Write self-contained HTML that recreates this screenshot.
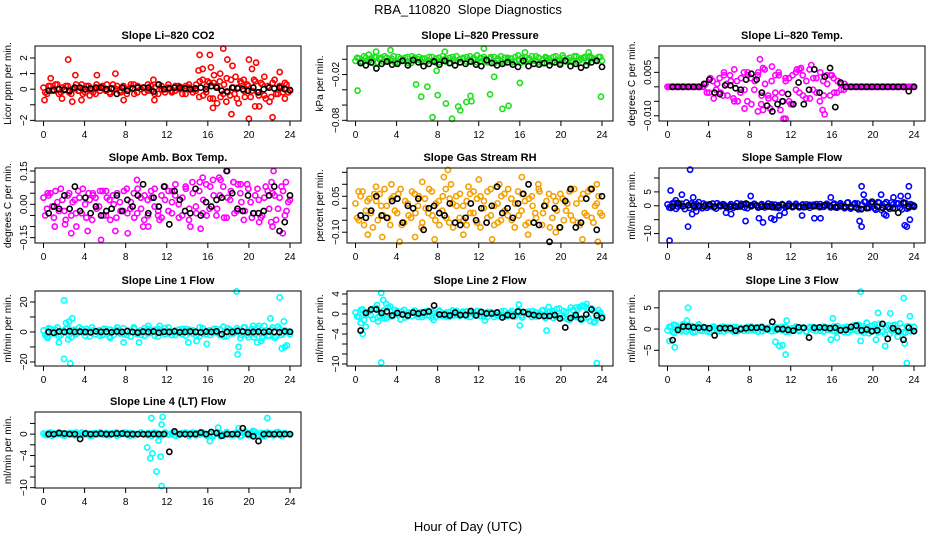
<!DOCTYPE html>
<html><head><meta charset="utf-8"><title>RBA_110820 Slope Diagnostics</title>
<style>
html,body{margin:0;padding:0;background:#fff;}
svg{display:block;font-family:"Liberation Sans",Arial,sans-serif;}
</style></head>
<body>
<svg id="chart" width="936" height="540" viewBox="0 0 936 540" xmlns="http://www.w3.org/2000/svg">
<text x="468" y="14" text-anchor="middle" font-size="13" style="white-space:pre">RBA_110820  Slope Diagnostics</text>
<text x="468" y="531" text-anchor="middle" font-size="13">Hour of Day (UTC)</text>
</svg>
<script>
// ---- data: CO2 ----
const co2Main=[0.1,-0.3,0.2,-0.1,0.3,-0.2,0,0.2,-0.3,0.1,-0.1,0.3,-0.2,0.2,0,-0.3,0.1,0.2,-0.1,-0.2,0.3,0,-0.1,0.2,-0.3,0.1,0.3,-0.2,0,0.1,-0.1,0.2,-0.3,0.3,0,-0.2,0.1,-0.1,0.2,0,-0.3,0.2,0.1,-0.2,0.3,0.5,-0.4,0.2,-0.6,0.4,0.1,-0.5,0.3,-0.2,0.6,-0.3,0.1,0.4,-0.5,0.2,-0.1,0.5,-0.4,0.3,-0.6,0.1,0.4,-0.3,0.2,-0.2,0.3,-0.1];
const co2B=[-0.2,0.2,-0.1,0.3,-0.3,0.1,0.2,-0.2,0,0.3,-0.1,-0.3,0.2,0,-0.2,0.3,-0.1,0.1,0.3,-0.3,0,0.2,-0.2,0.1,-0.1,0.3,-0.3,0.2,0,-0.2,0.3,-0.1,0.1,-0.3,0.2,0,0.3,-0.2,-0.1,0.2,0.1,-0.3,0.3,0,-0.1,-0.5,0.6,-0.2,0.4,-0.6,0.2,0.5,-0.3,0.7,-0.4,0.1,-0.6,0.5,-0.1,0.3,-0.5,0.6,-0.2,0.4,-0.4,0.2,-0.5,0.6,-0.3,0.1,0.4,-0.2];
const co2Out=[[2.4,1.9],[0.7,0.7],[3.1,0.9],[2.8,-0.8],[3.7,-0.7],[0.1,-0.7],[7,1],[5.2,0.9],[7.8,-0.7],[10.8,-0.7],[15.2,2.2],[16.2,2.2],[17.5,2.6],[17.9,1.9],[15.5,1.3],[16.3,1.4],[16.6,0.9],[15.1,1.2],[17.2,1.0],[18.4,1.5],[18.7,0.8],[20,1.9],[20.7,1.7],[20.3,1.3],[16.5,-1.2],[16.9,-0.9],[17.8,-0.8],[18.3,-1.6],[19.0,-0.9],[20.0,-1.9],[20.6,-1.1],[21.0,-1.1],[22.3,-1.8],[23.0,1.1],[21.5,0.8],[22,-0.8],[23.5,-0.6],[16,0.5],[19.5,0.6],[10.7,0.6],[1.8,-0.6],[4.5,-0.4]];
const co2Black=[-0.1,-0.05,0,-0.05,-0.1,0.1,0.1,0,0.05,0.1,0.1,0,0.05,-0.3,0.1,-0.1,0.05,0.1,0.1,0.1,-0.15,0.3,0,0.05,0.1,0.1,0.05,0,0.05,0.1,0,0.2,0.1,-0.1,-0.15,0.1,0.05,0,-0.1,0.1,-0.2,0,0.1,0.05,0.1,0,-0.05];
// ---- data: Pressure ----
const presMain=[-0.002,0.001,-0.004,0.002,-0.001,-0.005,0.003,0,-0.003,0.002,-0.002,0.004,-0.004,0.001,-0.001,0.003,-0.005,0.002,0,-0.003,0.001,-0.002,0.003,-0.004,0.002,-0.001,0.001,-0.005,0.003,-0.002,0,0.002,-0.003,0.004,-0.001,-0.004,0.002,0,-0.002,0.003,-0.005,0.001,-0.003,0.002,0,-0.004,0.003,-0.001,0.002,-0.003,0.001,-0.002,0.004,-0.004,0,0.002,-0.003,0.003,-0.001,-0.005,0.002,0,-0.002,0.004,-0.003,0.001,0.003,-0.004,0.002,-0.001,0.003,-0.002];
const presB=[0.002,-0.003,0.004,-0.001,0.001,0.003,-0.004,0.002,0.004,-0.002,0.001,-0.004,0.003,-0.002,0.002,-0.005,0.004,-0.001,0.003,0.001,-0.004,0.003,-0.002,0.001,-0.004,0.004,-0.003,0.002,-0.001,0.004,-0.004,0.001,0.003,-0.002,0.002,0.005,-0.003,0.003,-0.004,0.001,0.003,-0.002,0.004,-0.005,0.002,0.001,-0.003,0.005,-0.004,0.003,-0.001,0.004,-0.002,0.002,-0.005,0.003,0.001,-0.003,0.004,-0.002,0.005,-0.003,0.002,-0.004,0.004,-0.001,0.002,-0.003,0.004,0.001,-0.002,0.003];
const presOut=[[0.2,-0.041],[5.9,-0.033],[6.4,-0.049],[7.0,-0.036],[7.5,-0.076],[8.0,-0.047],[8.8,-0.058],[9.4,-0.078],[10,-0.062],[10.2,-0.067],[10.8,-0.056],[11.2,-0.048],[11.3,-0.055],[13.1,-0.046],[13.5,-0.023],[14.3,-0.065],[14.9,-0.061],[16.0,-0.031],[23.9,-0.049],[8.7,0.01],[12.5,0.014],[3.4,0.012],[2,0.01],[16.5,0.009],[22.7,0.009],[1.3,0.006],[7.9,-0.015]];
const presBlack=[-0.005,-0.008,-0.004,-0.012,-0.006,-0.003,-0.007,-0.006,-0.002,-0.008,-0.001,-0.004,-0.009,-0.006,-0.003,-0.007,-0.002,-0.005,-0.008,-0.004,-0.006,-0.003,-0.007,-0.009,-0.001,-0.005,-0.008,-0.006,-0.004,-0.007,-0.010,-0.002,-0.009,-0.006,-0.007,-0.005,-0.008,-0.004,-0.007,-0.002,-0.009,-0.006,-0.011,-0.008,-0.004,-0.002,-0.010];
// ---- data: Li-820 Temp ----
const tempMain=[0,0,0,0,0,0,0,0,0,0,0,0.001,-0.002,0.002,-0.001,0.003,-0.003,0.001,0.004,-0.004,0.002,-0.002,0.005,-0.005,0.003,-0.001,0.004,-0.006,0.006,-0.003,0.002,-0.004,0.005,-0.002,0.003,-0.005,0.004,-0.001,0.006,-0.003,0.002,-0.004,0.003,-0.002,0.005,-0.003,0.001,0.004,-0.002,0.002,-0.001,0.001,0,0,0,0,0,0,0,0,0,0,0,0,0,0,0,0,0,0,0,0];
const tempB=[0,0,0,0,0,0,0,0,0,0,0,-0.002,0.003,-0.004,0.001,-0.002,0.005,-0.003,0.002,0.006,-0.005,0.003,-0.001,0.004,-0.006,0.002,0.005,-0.003,0.001,-0.004,0.007,-0.002,0.004,-0.005,0.002,0.003,-0.006,0.005,-0.002,0.004,-0.004,0.006,-0.001,0.003,-0.005,0.002,0.004,-0.003,0.003,-0.002,0.001,-0.001,0,0,0,0,0,0,0,0,0,0,0,0,0,0,0,0,0,0,0,0];
const tempOut=[[9.0,0.0095],[9.3,0.0065],[13,0.0065],[12.6,0.006],[14,0.0075],[11.3,-0.011],[11.5,-0.011],[15.3,-0.0095],[9.3,-0.008],[8.8,-0.0085],[10,-0.0075],[7.5,-0.0075],[5.5,0.004],[11,-0.008],[15.1,-0.008],[7.8,0.005],[10.5,0.004],[16,0.004],[12,-0.006],[6.5,-0.005]];
const tempBlack=[0,0,0,0,0,0,0.001,0.0025,-0.002,-0.0025,0.0005,0.0005,-0.0005,-0.001,0.0025,0.0045,0.0025,-0.002,-0.0065,-0.0085,-0.006,-0.005,-0.0025,-0.006,0.0015,-0.006,-0.001,0.006,-0.002,0.0035,0.0065,-0.007,0.0015,0,0,0,0,0,0,0,0,0,0,0,0,-0.0015,0];
// ---- data: Amb. Box Temp ----
const boxMain=[0.03,-0.02,0.05,-0.06,0.01,0.07,-0.03,0.04,-0.05,0.02,0.06,-0.04,0,0.05,-0.07,0.03,-0.01,0.06,-0.05,0.02,0.04,-0.06,0.01,-0.03,0.07,-0.02,0.05,-0.04,0.03,-0.07,0.02,0.06,-0.01,-0.05,0.04,0.08,-0.03,0.01,0.09,-0.06,0.03,0.07,-0.02,0.05,-0.04,0.1,0.02,-0.05,0.08,0.04,-0.02,0.11,-0.06,0.03,0.06,-0.04,0.09,0.01,-0.03,0.07,-0.06,0.04,0.02,-0.05,0.08,-0.02,0.05,-0.07,0.03,0.06,-0.03,0.02];
const boxB=[-0.05,0.04,-0.01,0.06,-0.03,0.02,-0.07,0.05,0.01,-0.04,0.03,0.07,-0.06,0.02,0.04,-0.02,0.06,-0.05,0.03,-0.07,0,0.05,-0.03,0.06,-0.04,0.01,-0.06,0.07,-0.02,0.04,-0.05,0.03,0.07,-0.03,-0.06,0.02,0.06,-0.04,0.04,0,-0.05,0.08,-0.07,0.1,-0.01,0.06,-0.04,0.09,-0.02,0.11,-0.05,0.04,0.08,-0.06,0.02,0.1,-0.03,0.05,-0.07,0.09,0.01,-0.04,0.07,-0.06,0.03,0.06,-0.08,0.04,-0.02,0.08,-0.05,0.01];
const boxOut=[[1.1,-0.1],[2.1,-0.09],[2.7,-0.13],[3.2,-0.1],[4.3,-0.12],[5.6,-0.16],[7.0,-0.12],[8.2,-0.13],[9.1,0.11],[9.7,-0.1],[10.2,-0.1],[11.3,-0.07],[14.3,-0.1],[15.3,-0.11],[15.5,0.12],[17.1,0.12],[17.8,0.15],[18.5,0.1],[19.2,0.09],[22.2,0.1],[22.4,0.15],[22.3,-0.1],[23.3,-0.13],[23.6,0.1],[21,-0.08],[6.1,0.06],[0.4,0.05],[4.8,0.05],[12.5,0.06]];
const boxBlack=[-0.04,-0.01,-0.02,0.04,-0.02,0.08,-0.03,0.03,-0.04,-0.01,-0.05,-0.03,-0.02,0.04,-0.03,0.02,-0.01,0.04,0.09,-0.04,0.03,-0.01,0.08,-0.09,0.06,0.02,-0.03,-0.04,0.07,-0.05,0.01,-0.01,0.02,0.03,0.15,0.05,-0.02,-0.03,0.04,-0.04,-0.04,-0.03,0.04,0.08,-0.12,-0.08,0.04];
// ---- data: Gas Stream RH ----
const rhMain=[0.02,-0.05,0.07,-0.01,0.04,-0.08,0.03,0.06,-0.03,0.01,-0.07,0.05,-0.02,0.08,-0.06,0.02,-0.04,0.06,0.01,-0.08,0.04,-0.02,0.07,-0.05,0.03,-0.01,0.08,-0.06,0.02,0.05,-0.04,0.01,-0.07,0.06,-0.02,0.04,-0.08,0.03,0.07,-0.03,0.01,-0.06,0.05,-0.01,0.08,-0.05,0.02,-0.03,0.06,-0.07,0.04,0.01,-0.04,0.07,-0.02,0.03,-0.08,0.05,-0.01,0.06,-0.05,0.02,-0.03,0.08,-0.06,0.04,-0.02,0.07,-0.04,0.01,0.05,-0.03];
const rhB=[-0.04,0.05,-0.07,0.03,-0.02,0.06,-0.05,0.01,0.08,-0.04,0.04,-0.01,0.06,-0.07,0.03,-0.03,0.07,-0.02,0.05,-0.06,0,0.08,-0.03,0.02,-0.07,0.05,-0.04,0.04,-0.08,0.01,0.06,-0.05,0.03,-0.02,0.07,-0.06,0.05,0,-0.04,0.08,-0.07,0.02,-0.05,0.06,-0.03,0.04,-0.08,0.07,-0.01,0.03,-0.06,0.05,-0.02,0.08,-0.07,0.01,0.06,-0.04,0.03,-0.08,0.04,-0.01,0.07,-0.05,0.02,-0.07,0.06,-0.03,0.08,-0.06,0.02,-0.02];
const rhOut=[[1.2,-0.11],[2.6,-0.12],[4.3,-0.14],[5.8,-0.12],[7.7,-0.13],[8.6,0.13],[9,0.16],[9.3,0.1],[12,0.12],[13.3,-0.13],[16.2,0.13],[16.8,-0.11],[19.5,-0.1],[22.1,-0.13],[23.6,-0.14],[23.5,0.1],[3.5,0.1],[6.5,0.11],[11,0.09],[17.8,0.1],[0.3,0.07],[2,0.09],[14,0.1],[21,0.08],[10.5,-0.11]];
const rhBlack=[-0.03,-0.04,-0.01,0.05,-0.03,-0.04,0.03,0.04,-0.06,0.01,0.0,0.04,-0.09,0.0,0.01,-0.02,-0.03,0.02,-0.06,-0.07,-0.04,0.02,-0.05,0.0,-0.06,0.01,0.09,-0.02,0.0,-0.04,0.02,0.06,0.1,-0.06,-0.07,0.01,-0.14,0.0,-0.08,0.03,0.08,-0.08,-0.06,0.04,0.08,-0.09,0.05];
// ---- data: Sample Flow ----
const sampMain=[0.5,-0.8,1.1,-0.3,0.7,-1.2,0.2,0.9,-0.6,1.3,-0.9,0.4,-0.2,0.8,-1,0.3,0.6,-0.5,0.1,-0.7,0.9,-0.3,0.5,-0.9,0.2,0.7,-0.4,0.3,-0.6,0.8,-0.1,0.4,-0.8,0.6,-0.2,0.1,-0.5,0.7,-0.3,0.2,0.5,-0.7,0.4,-0.1,0.6,-0.4,0.2,-0.6,0.8,-0.2,0.3,-0.9,1.2,-0.5,0.9,-1.3,0.4,1.5,-0.8,0.7,-1.4,1.1,-0.6,1.3,-1.1,0.5,0.9,-0.7,1.2,-1,0.6,-0.4];
const sampB=[-0.6,0.9,-1.1,0.4,-0.2,1.2,-0.8,0.3,0.6,-0.4,0.8,-0.7,0.2,-0.5,0.9,-0.2,0.4,-0.8,0.6,0.1,-0.4,0.7,-0.6,0.3,-0.2,0.5,-0.7,0.6,0,-0.3,0.5,-0.6,0.2,0.4,-0.5,0.7,-0.2,0.1,-0.6,0.5,-0.4,0.3,-0.2,0.6,-0.5,0.2,0.7,-0.3,0.4,-0.7,0.9,-0.4,1.1,-1,0.5,0.8,-1.2,1.4,-0.6,1,-0.9,1.3,-1.5,0.7,-0.5,1.2,-1,0.8,-1.3,1,-0.7,0.3];
const sampOut=[[0.2,-12.5],[0.3,5.5],[1.4,4],[2,-7.5],[2.2,13],[2.4,-3],[2.5,3],[5.7,-2.5],[6.2,-3],[7.6,-5.5],[8.1,3.5],[8.9,-4.5],[9.3,-6],[10.1,-4.5],[10.4,-5],[10.9,-3.5],[11.4,-2.5],[13.1,-3.5],[14.3,-4.5],[14.9,-4.5],[15.9,3],[18.7,-5.5],[18.9,-7.5],[18.9,7],[19.1,4],[20.8,4],[21.1,-3],[21.3,-3.5],[23.1,-7],[23.3,-7.5],[23.5,7],[23.4,3.5],[23.6,-5],[22.7,3.5],[22,3],[0.8,2],[2.8,-2]];
const sampBlack=[-0.3,1,-0.2,0.2,-0.1,0,-0.2,0.5,-0.3,0,-0.1,-0.4,-0.2,0.1,0.8,0,0.1,-0.3,-0.1,-0.5,-0.3,0.3,-0.1,-0.3,-0.2,-0.5,0,-0.1,-0.2,0.2,0,-0.5,-0.2,-0.4,-0.3,-0.7,-1.2,-0.9,1.5,-0.3,-0.8,-0.5,-0.9,-2.5,1,-0.2,0];
// ---- data: Line 1 Flow ----
const l1Main=[1,-3,2,-1,3,-2,0,2.5,-3.5,1.5,-0.5,2,-2.5,0.5,3,-1.5,1,-2,2,-3,0.5,1.5,-1,2.5,-2,0,3,-1.5,1,-2.5,2,-0.5,1.5,-3,0.5,2.5,-1,0,-2,1.5,-1.5,2,-0.5,1,-2.5,3,-1,0.5,-2,2,-0.5,1.5,-3,2.5,-1,0,1,-2,3,-3.5,2,-1.5,4,-4,1,-2.5,3,-3,2,-1,0.5,-1.5];
const l1B=[-2,2.5,-1,1.5,-3,0.5,2,-2,1,-1.5,3,-0.5,2,-3,1,0.5,-2.5,2,-1,1.5,-2,3,-0.5,-1.5,1,-3,2,0.5,-2,2.5,-1,1,-2.5,2,-0.5,-1.5,3,-2,1,-0.5,2,-2.5,1.5,-1,0.5,-3,2.5,-1.5,1,-0.5,2,-2,3.5,-3,1.5,-1,2.5,-4,3,-2,1,-3.5,2.5,-1,4,-2.5,1.5,-4,3.5,-2,1,0];
const l1Out=[[2,21],[2,-18],[2.6,-21],[1.5,-7],[2.2,6],[2.5,7],[2.8,9],[2.4,-5],[7.8,-7],[9.3,-7],[15.9,-8],[14.1,-7],[14.9,-6],[18.8,27],[18.9,-15],[19,-10],[22.1,9],[23,23],[23.2,-11],[23.5,-10],[23.4,7],[23.7,-9],[20.8,-7],[21.2,-6],[20.4,4],[10.2,4],[11.3,4],[6.5,-4],[0.4,-4]];
const l1Black=[0,-0.5,0.3,0,0.5,0,0.2,0,-0.3,0.4,0,0.2,-0.2,0.3,0,0.5,0,-0.4,0.2,0,0.3,-0.5,0.1,0,0.4,-0.2,0,0.3,0,-0.3,0.2,0,0.4,-1.5,0.1,0,0.6,0.3,-0.2,0,0.2,-0.1,0.3,0,-0.2,0.4,0.1];
// ---- data: Line 2 Flow ----
const l2Main=[0.3,-0.6,0.9,-0.2,0.5,-1,1.2,-0.4,0.7,-0.8,1.5,-0.3,0.6,-1.1,0.8,-0.5,0.2,0.7,-0.6,0.4,-0.3,0.6,-0.7,0.2,0.5,-0.4,0.3,-0.6,0.7,-0.2,0.1,0.5,-0.5,0.3,-0.1,0.6,-0.4,0.2,-0.6,0.4,0,-0.3,0.5,-0.5,0.2,0.6,-0.2,0.4,-0.7,0.3,-0.1,0.6,-0.5,0.2,0.8,-0.4,0.5,-0.8,1,-0.3,0.6,-1,1.3,-0.5,0.9,-1.2,1.5,-0.7,1.1,-1.5,0.8,-0.4];
const l2B=[-0.5,0.8,-1.2,0.4,-0.3,1.1,-0.7,0.2,-0.9,1.3,-0.5,0.8,-0.2,0.5,-0.7,0.3,-0.4,0.6,-0.2,-0.6,0.5,-0.3,0.4,-0.5,0.7,-0.1,-0.5,0.4,-0.3,0.6,-0.4,0.2,0.5,-0.6,0.3,-0.2,0.5,-0.5,0.4,0,-0.6,0.3,-0.2,0.6,-0.4,0.1,-0.5,0.7,-0.3,0.2,0.5,-0.6,0.4,-0.2,0.7,-0.8,0.3,0.6,-0.5,1.1,-0.7,0.4,-1.2,0.8,-0.6,1.4,-0.9,1.2,-1.4,0.6,-0.8,0.3];
const l2Out=[[0.5,-1.8],[0.7,-4],[1,-2.5],[2.5,4.2],[2.7,2.8],[2.5,-9.7],[2.1,1.8],[2.2,-1.5],[7.6,-1.2],[12.6,-1.3],[15.9,1.9],[16,-2.3],[18.6,-3.3],[18.8,1.4],[22.1,1.7],[22.5,2],[23.5,-9.8],[23.2,-1.7],[21.5,1.3],[3,2]];
const l2Black=[-3.3,0.2,0.9,0.9,0.2,0.5,-0.3,0.2,-0.1,-0.3,0.3,0.1,0.3,0.5,1.7,-0.1,-0.1,-0.3,0.3,-0.2,-0.2,0.6,-0.3,0.4,0.1,0.1,0.3,-0.7,-0.2,-0.4,0.5,0.4,0,-0.2,-0.4,-0.4,-0.4,-0.2,-0.9,-2.7,-0.8,-0.2,-1,-0.1,0.9,-0.3,-0.8];
// ---- data: Line 3 Flow ----
const l3Main=[-0.3,0.6,-0.9,0.4,-0.5,1,-0.2,0.7,-0.6,1.1,-0.4,0.3,-0.7,0.5,0.2,-0.5,0.6,-0.2,0.3,-0.6,0.4,0.1,-0.4,0.5,-0.3,0.2,-0.6,0.6,-0.1,0.3,-0.5,0.4,0,-0.3,0.5,-0.6,0.2,0.4,-0.5,0.1,-0.7,0.5,-0.2,0.3,-0.4,0.6,-0.1,0.2,-0.5,0.7,-0.3,0.4,-0.8,0.6,-0.2,1,-0.6,0.3,-1,0.8,-0.4,1.2,-0.7,0.5,-1.1,0.9,-0.3,1.3,-0.8,0.6,-0.5,0.4];
const l3B=[0.5,-0.7,0.9,-0.4,1.1,-0.6,0.3,-0.8,0.6,-0.3,0.5,-0.5,0.2,0.6,-0.4,0.3,-0.6,0.4,-0.2,0.5,-0.5,0.3,0.1,-0.4,0.6,-0.3,0.4,-0.5,0.2,-0.2,0.6,-0.4,0.3,0.5,-0.6,0.1,-0.3,0.6,-0.2,0.4,-0.5,0.2,0.5,-0.4,0.3,-0.6,0.4,-0.2,0.6,-0.5,0.3,-0.7,0.5,-0.3,0.9,-0.5,0.7,-0.9,0.4,-0.6,1.1,-0.8,0.5,-1.2,0.9,-0.4,1,-0.7,0.3,-0.9,0.6,-0.2];
const l3Out=[[0.2,-2.8],[0.7,-4.3],[2,5],[1.9,2],[10.5,-3],[10.9,-4],[11.2,-3.8],[11.5,-6],[11.6,2],[15.9,-2.5],[16.1,2.5],[16.5,-2],[18.8,-2.8],[18.8,8.8],[19.4,1.5],[20.3,-2.5],[20.5,3.8],[21.2,-4],[21.7,3.7],[22.4,-1.8],[23,7.3],[23.1,-3.4],[23.3,-8],[23.6,3],[24,0.5],[0.6,1]];
const l3Black=[-2.6,-0.2,0.6,0.6,0.4,0.3,0.4,0.2,-1.5,0.2,0.2,0.2,-0.4,0,0.2,0.3,0.3,0.4,0,1.7,0,0,-0.2,-0.4,0.4,0.3,-2,0.3,0.4,0.3,0.2,0.3,-0.3,-0.2,0.5,0.8,-0.3,-0.1,-0.5,-0.3,1.2,-2.3,0.2,-0.5,-2.5,0.3,-0.5];
// ---- data: Line 4 (LT) Flow ----
const l4Main=[0.1,-0.2,0.3,-0.1,0,0.2,-0.3,0.1,0.2,-0.2,0,0.3,-0.1,0.1,-0.3,0.2,0,-0.1,0.2,-0.2,0.1,0.3,-0.1,0,0.2,-0.3,0.1,-0.1,0.2,0,-0.2,0.1,0.3,-0.2,0,0.1,-0.1,0.2,-0.3,0,0.2,-0.1,0.1,0.3,-0.2,0,0.1,-0.3,0.2,-0.1,0.4,-0.4,0,0.2,-0.2,0.1,0.3,-0.3,0.5,-0.2,0.1,0.4,-0.1,-0.3,0.2,0,-0.2,0.3,-0.1,0.1,0,-0.1];
const l4B=[-0.1,0.2,-0.3,0.1,0.3,-0.2,0,0.2,-0.1,0.3,-0.2,0,0.2,-0.3,0.1,0,0.3,-0.1,-0.2,0.1,0.2,-0.3,0.1,0.3,-0.1,0.2,-0.2,0,0.3,-0.1,0.2,-0.3,0,0.1,-0.2,0.3,0,-0.1,0.2,-0.2,0.1,0.3,-0.3,0,0.2,-0.1,0.3,-0.2,0.1,-0.4,0.3,0.2,-0.3,0.4,0,-0.2,0.3,-0.4,0.1,0.3,-0.2,0.5,-0.3,0.2,-0.4,0.3,0.1,-0.2,0.4,-0.3,0.2,0];
const l4Out=[[10.1,-2.5],[10.4,-4.5],[10.6,-3.6],[10.5,3],[11.0,-7],[11.2,-1.2],[11.4,-4.2],[11.5,-9.7],[11.5,1.8],[11.6,3.2],[16.2,-1.3],[17,1.2],[19,1.1],[21.8,3],[20.4,0.6]];
const l4Black=[0,0,0.2,0.1,0,0,-0.9,0.1,0,0,0.1,0,0,0.1,0.1,0,0,0,0,0,0,0,0,-3.3,0.5,0,0,0,0,0.3,0,0.4,0.2,-0.3,0,0,0,1.1,0,-0.4,-1.3,0,0,0,0,0,0];
// ---- axis ticks ----
const xTicks=[0,4,8,12,16,20,24];
const co2Ticks=[-2,-1,0,1,2], co2Labels=["−2","","0","1","2"];
const presTicks=[0,-0.02,-0.04,-0.06,-0.08], presLabels=["","−0.02","","","−0.08"];
const tempTicks=[0.01,0.005,0,-0.005,-0.01], tempLabels=["","0.005","","","−0.010"];
const boxTicks=[0.15,0.1,0.05,0,-0.05,-0.1,-0.15], boxLabels=["0.15","","","0.00","","","−0.15"];
const rhTicks=[0.15,0.1,0.05,0,-0.05,-0.1], rhLabels=["","","0.05","","","−0.10"];
const sampTicks=[10,5,0,-5,-10], sampLabels=["","5","0","","−10"];
const l1Ticks=[20,10,0,-10,-20], l1Labels=["20","","0","","−20"];
const l2Ticks=[4,2,0,-2,-4,-6,-8,-10], l2Labels=["4","","0","","−4","","","−10"];
const l3Ticks=[5,0,-5], l3Labels=["5","0","−5"];
const l4Ticks=[2,0,-2,-4,-6,-8,-10], l4Labels=["","0","","−4","","","−10"];

const NS="http://www.w3.org/2000/svg";
const svg=document.getElementById('chart');
function mk(tag,attrs,parent){const e=document.createElementNS(NS,tag);for(const k in attrs)e.setAttribute(k,attrs[k]);(parent||svg).appendChild(e);return e;}

const colX=[35,347,659], rowY=[[46,121],[168,243],[291,366],[412,488]];
const panels=[
 {key:'co2',title:'Slope Li–820 CO2',ylab:'Licor ppm per min.',col:0,row:0,ymin:-2.04,ymax:2.77,color:'#ff0000',main:co2Main,mainB:co2B,out:co2Out,black:co2Black,ticks:co2Ticks,labels:co2Labels},
 {key:'pressure',title:'Slope Li–820 Pressure',ylab:'kPa per min.',col:1,row:0,ymin:-0.0809,ymax:0.0174,color:'#1ee01e',main:presMain,mainB:presB,out:presOut,black:presBlack,ticks:presTicks,labels:presLabels},
 {key:'li820-temp',title:'Slope Li–820 Temp.',ylab:'degrees C per min.',col:2,row:0,ymin:-0.0118,ymax:0.0141,color:'#ff00ff',main:tempMain,mainB:tempB,out:tempOut,black:tempBlack,ticks:tempTicks,labels:tempLabels},
 {key:'box-temp',title:'Slope Amb. Box Temp.',ylab:'degrees C per min.',col:0,row:1,ymin:-0.174,ymax:0.1635,color:'#ff00ff',main:boxMain,mainB:boxB,out:boxOut,black:boxBlack,ticks:boxTicks,labels:boxLabels},
 {key:'gas-rh',title:'Slope Gas Stream RH',ylab:'percent per min.',col:1,row:1,ymin:-0.145,ymax:0.168,color:'#f5a000',main:rhMain,mainB:rhB,out:rhOut,black:rhBlack,ticks:rhTicks,labels:rhLabels},
 {key:'sample-flow',title:'Slope Sample Flow',ylab:'ml/min per min.',col:2,row:1,ymin:-13.4,ymax:13.6,color:'#0000ff',main:sampMain,mainB:sampB,out:sampOut,black:sampBlack,ticks:sampTicks,labels:sampLabels},
 {key:'line1-flow',title:'Slope Line 1 Flow',ylab:'ml/min per min.',col:0,row:2,ymin:-22.7,ymax:27.3,color:'#00ffff',main:l1Main,mainB:l1B,out:l1Out,black:l1Black,ticks:l1Ticks,labels:l1Labels},
 {key:'line2-flow',title:'Slope Line 2 Flow',ylab:'ml/min per min.',col:1,row:2,ymin:-10.4,ymax:4.6,color:'#00ffff',main:l2Main,mainB:l2B,out:l2Out,black:l2Black,ticks:l2Ticks,labels:l2Labels},
 {key:'line3-flow',title:'Slope Line 3 Flow',ylab:'ml/min per min.',col:2,row:2,ymin:-8.7,ymax:8.96,color:'#00ffff',main:l3Main,mainB:l3B,out:l3Out,black:l3Black,ticks:l3Ticks,labels:l3Labels},
 {key:'line4-flow',title:'Slope Line 4 (LT) Flow',ylab:'ml/min per min.',col:0,row:3,ymin:-10.06,ymax:4.13,color:'#00ffff',main:l4Main,mainB:l4B,out:l4Out,black:l4Black,ticks:l4Ticks,labels:l4Labels}
];

panels.forEach(p=>{
  const L=colX[p.col], R=L+266, T=rowY[p.row][0], B=rowY[p.row][1];
  const xs=t=>L+8.5+t*(246.5/24);
  const ys=v=>B-(v-p.ymin)/(p.ymax-p.ymin)*(B-T);
  const g=mk('g',{});
  
  
  const tt=mk('text',{x:(L+R)/2,y:T-7,'text-anchor':'middle','font-size':'11','font-weight':'bold'},g);
  tt.textContent=p.title;
  
  
  const yl=mk('text',{x:0,y:0,'text-anchor':'middle','font-size':'10',transform:`translate(${L-24},${(T+B)/2}) rotate(-90)`},g);
  yl.textContent=p.ylab;
  
  
  const pts=mk('g',{fill:'none','stroke-width':'1.6'},g);
  
  
  const n=p.main.length;
  p.main.forEach((v,i)=>{
    const c=mk('circle',{cx:xs(i*24/(n-1)),cy:ys(v),r:2.6,stroke:p.color},pts);
    
    
  });
  const nB=p.mainB.length;
  p.mainB.forEach((v,i)=>{
    const c=mk('circle',{cx:xs((i+0.5)*24/nB),cy:ys(v),r:2.6,stroke:p.color},pts);
    
    
  });
  p.out.forEach(o=>{
    const c=mk('circle',{cx:xs(o[0]),cy:ys(o[1]),r:2.6,stroke:p.color},pts);
    
    
  });
  const nb=p.black.length;
  p.black.forEach((v,i)=>{
    const c=mk('circle',{cx:xs(0.5+i*23.5/(nb-1)),cy:ys(v),r:2.6,stroke:'#000'},pts);
    
    
  });
  const box=mk('rect',{x:L,y:T,width:R-L,height:B-T,fill:'none',stroke:'#000','stroke-width':'1'},g);
  
  
  const xa=mk('g',{},g);
  
  
  xTicks.forEach(t=>{
    mk('line',{x1:xs(t),x2:xs(t),y1:B,y2:B+5,stroke:'#000'},xa);
    const lb=mk('text',{x:xs(t),y:B+17,'text-anchor':'middle','font-size':'10'},xa);
    lb.textContent=String(t);
    
    
  });
  const ya=mk('g',{},g);
  
  
  p.ticks.forEach((v,i)=>{
    mk('line',{x1:L-5,x2:L,y1:ys(v),y2:ys(v),stroke:'#000'},ya);
    if(p.labels[i]){
      const lb=mk('text',{x:0,y:0,'text-anchor':'middle','font-size':'10',transform:`translate(${L-8},${ys(v)}) rotate(-90)`},ya);
      lb.textContent=p.labels[i];
      
      
    }
  });
});
</script>
</body></html>
